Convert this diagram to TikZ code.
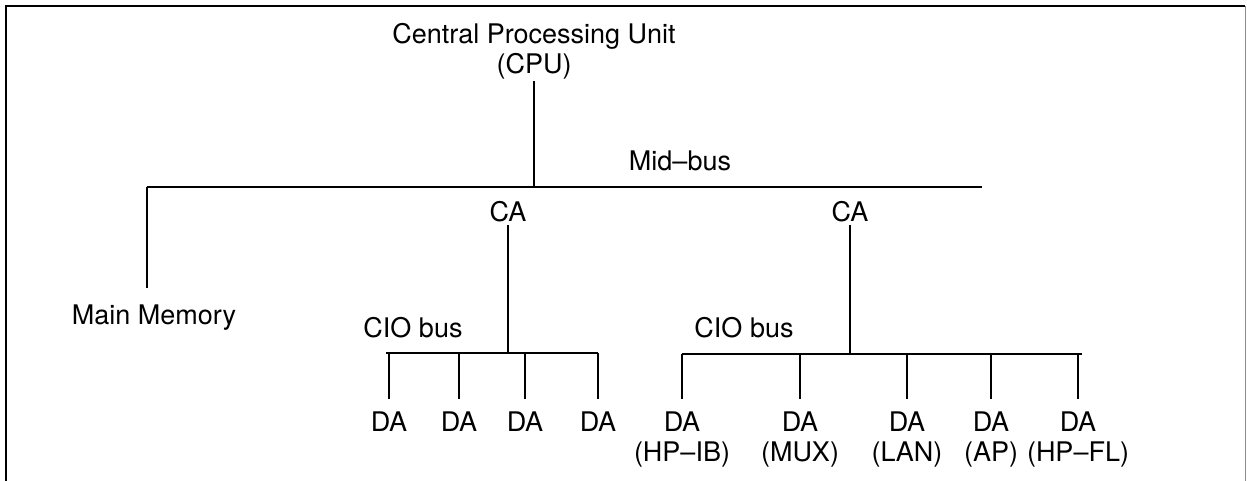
\documentclass[tikz,border=0pt]{standalone}
\usepackage{fontspec}
\setmainfont{TeX Gyre Heros}
\begin{document}
\begin{tikzpicture}[x=1pt,y=-1pt,
  lbl/.style={font=\fontsize{27}{30}\selectfont, inner sep=2pt},
  basel/.style={lbl, anchor=base},
  dev/.style={lbl, align=center, anchor=north, inner ysep=0pt, outer ysep=13pt},
  wire/.style={line width=2.2pt},
  frame/.style={line width=2pt}]
  \useasboundingbox (0,0) rectangle (1247,481);

  % outer frame (open at the bottom)
  \draw[frame] (6,481) -- (6,6) -- (1245,6);
  \draw[line width=1pt, black!45] (1245,6) -- (1245,481);

  % processor and main bus
  \node[lbl, align=center] (cpu) at (534,51) {Central Processing Unit\\(CPU)};
  \coordinate (mbL) at (147,187);
  \coordinate (mbR) at (982,187);
  \node[basel] (midlbl) at (680,171) {Mid--bus};
  \draw[wire] (mbL) -- (mbR);
  \draw[wire] (cpu.south) -- (cpu.south |- mbL);

  % main memory
  \node[basel] (mem) at (154,324) {Main Memory};
  \coordinate (memtop) at (147,288);
  \draw[wire] (mbL) -- (memtop);

  % first channel adapter
  \node[basel] (ca1) at (508,222) {CA};
  \node[basel] (cio1) at (413,337) {CIO bus};
  \coordinate (b1L) at (386,353);
  \coordinate (b1R) at (598,353);
  \draw[wire] (b1L) -- (b1R);
  \draw[wire] (ca1.south) -- (ca1.south |- b1L);
  \foreach \n/\x in {1/389, 2/459, 3/525, 4/598}{
    \node[dev] (da\n) at (\x,399) {DA};
    \draw[wire] (da\n.north |- b1L) -- (da\n.north);
  }

  % second channel adapter
  \node[basel] (ca2) at (850,222) {CA};
  \node[basel] (cio2) at (744,337) {CIO bus};
  \coordinate (b2L) at (682,354);
  \coordinate (b2R) at (1082,354);
  \draw[wire] (b2L) -- (b2R);
  \draw[wire] (ca2.south) -- (ca2.south |- b2L);
  \foreach \n/\x/\t in {5/682/HP--IB, 6/800/MUX, 7/907/LAN, 8/991/AP, 9/1078/HP--FL}{
    \node[dev] (da\n) at (\x,399) {DA\\(\t)};
    \draw[wire] (da\n.north |- b2L) -- (da\n.north);
  }
\end{tikzpicture}
\end{document}
